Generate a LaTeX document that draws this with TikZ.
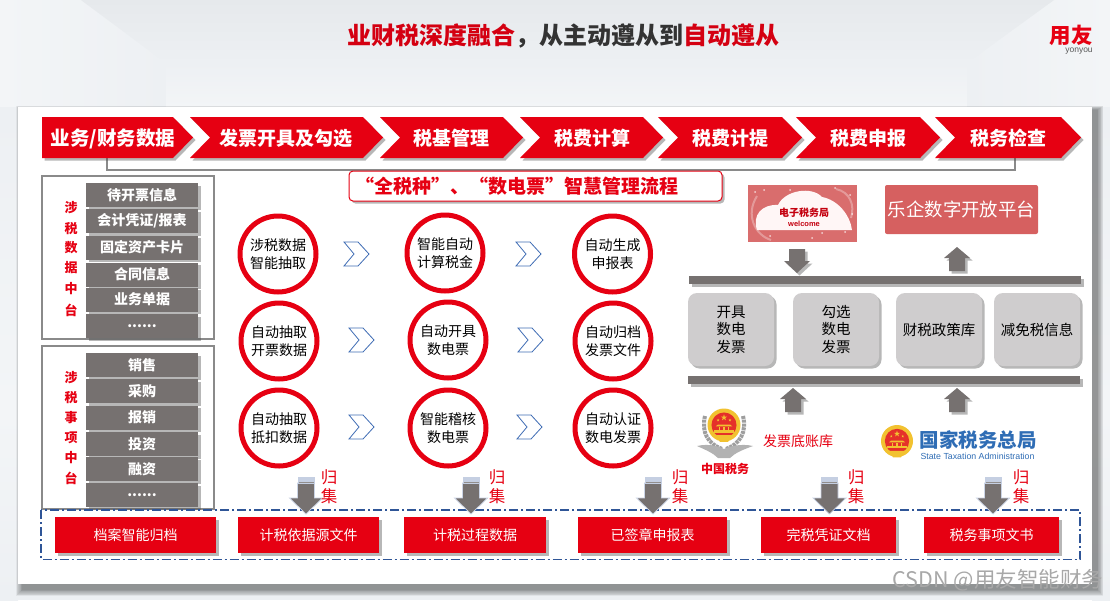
\documentclass[tikz,border=0pt]{standalone}
\usepackage{fontspec}
\setmainfont{Noto Sans CJK SC}
\setsansfont{Liberation Sans}
\usetikzlibrary{shadows,fadings,calc}
\definecolor{rd}{HTML}{E60012}
\definecolor{gy}{HTML}{767170}
\definecolor{fr}{HTML}{8A8A8A}
\definecolor{lg}{HTML}{CFCDCE}
\definecolor{pk}{HTML}{D66060}
\definecolor{bl}{HTML}{2F5597}
\definecolor{chev}{HTML}{3F6DB5}
\definecolor{gold}{HTML}{F2C230}
\definecolor{embred}{HTML}{E5302A}
\definecolor{stablue}{HTML}{2F6DB5}
\definecolor{bgdark}{HTML}{E6E9EC}
\definecolor{bgmid}{HTML}{EDF0F3}
\definecolor{bglight}{HTML}{F3F5F7}
\definecolor{wmgray}{HTML}{A8A8A8}
\newcommand{\fs}[2]{\fontsize{#1}{#2}\selectfont}
\tikzset{
 sh/.style={general shadow={shadow xshift=2.5pt,shadow yshift=-2.5pt,opacity=.4,fill=black!70}},
 stepflag/.style={fill=rd,sh},
 flagtext/.style={text=white,font=\fs{19}{22}\bfseries,inner sep=0pt},
 framebox/.style={draw=fr,line width=2pt,fill=white,inner sep=0pt},
 item/.style={fill=gy,text=white,font=\fs{14}{17}\bfseries,inner sep=0pt,minimum width=112pt,minimum height=24pt,sh},
 sidelabel/.style={text=rd,font=\fs{13}{16}\bfseries,inner sep=0pt},
 ring/.style={circle,draw=rd,line width=5pt,fill=white,minimum size=76pt,inner sep=0pt,align=center,font=\fs{14}{18.5}},
 chevron/.style={draw=chev,line width=.8pt,fill=white},
 greybox/.style={fill=lg,rounded corners=9pt,inner sep=0pt,align=center,font=\fs{14.5}{17.5},minimum height=73pt,sh},
 bar/.style={fill=gy,sh},
 blockarrow/.style={fill=gy,sh},
 redbox/.style={fill=rd,text=white,font=\fs{14}{17},inner sep=0pt,minimum height=36pt,sh},
 gather/.style={text=rd,font=\fs{16.5}{19},inner sep=0pt},
}
\newcommand{\flag}[5]{%
 \fill[stepflag] (#1,117) -- (#3-20,117) -- (#3,137.5) -- (#3-20,158) -- (#1,158) -- (#1+#2,137.5) -- cycle;
 \node[flagtext] (flag#1) at (#4,138.5) {#5};}
\newcommand{\arrowdown}[2]{\fill[blockarrow] (#1-8,#2) -- (#1+8,#2) -- (#1+8,#2+12) -- (#1+13,#2+12) -- (#1,#2+24) -- (#1-13,#2+12) -- (#1-8,#2+12) -- cycle;}
\newcommand{\arrowup}[2]{\fill[blockarrow] (#1-8,#2+24) -- (#1+8,#2+24) -- (#1+8,#2+11) -- (#1+13,#2+11) -- (#1,#2) -- (#1-13,#2+11) -- (#1-8,#2+11) -- cycle;}
\newcommand{\gatherarrow}[1]{%
 \fill[fill=gy,draw=bl!25!white,line width=.7pt] (#1-8.5,483) -- (#1+8.5,483) -- (#1+8.5,498) -- (#1+16.5,498) -- (#1,514) -- (#1-16.5,498) -- (#1-8.5,498) -- cycle;
 \fill[bl!28!white] (#1-8.5,477) rectangle (#1+8.5,484);
 \draw[gy!80!white,line width=.8pt] (#1-7.5,482) -- (#1+7.5,482);}
\newcommand{\chevshape}[2]{\filldraw[chevron] (#1,#2-12) -- (#1+14,#2-12) -- (#1+25,#2) -- (#1+14,#2+12) -- (#1,#2+12) -- (#1+10,#2) -- cycle;}
\newcommand{\estar}[3]{\fill[gold] (#1,#2) ++(-90:#3) -- ++(0,0) (#1,#2) ++(-90:#3) -- ($(#1,#2)+(54:#3)$) -- ($(#1,#2)+(198:#3)$) -- ($(#1,#2)+(342:#3)$) -- ($(#1,#2)+(126:#3)$) -- cycle;}
\newcommand{\emblem}[3]{%
 \fill[gold] (#1,#2) circle (#3);
 \fill[embred] (#1,#2) circle (#3*0.76);
 \estar{#1}{#2-#3*.45}{#3*.2}
 \estar{#1-#3*.36}{#2-#3*.3}{#3*.09}
 \estar{#1+#3*.36}{#2-#3*.3}{#3*.09}
 \fill[gold] (#1-#3*.36,#2-#3*.03) -- (#1+#3*.36,#2-#3*.03) -- (#1+#3*.5,#2+#3*.08) -- (#1-#3*.5,#2+#3*.08) -- cycle;
 \fill[gold] (#1-#3*.32,#2+#3*.12) rectangle (#1-#3*.22,#2+#3*.3);
 \fill[gold] (#1+#3*.22,#2+#3*.12) rectangle (#1+#3*.32,#2+#3*.3);
 \fill[gold] (#1-#3*.05,#2+#3*.12) rectangle (#1+#3*.05,#2+#3*.3);
 \fill[gold] (#1-#3*.62,#2+#3*.33) rectangle (#1+#3*.62,#2+#3*.46);
 \fill[gold] (#1-#3*.45,#2+#3*.62) -- (#1+#3*.45,#2+#3*.62) -- (#1+#3*.25,#2+#3*1.02) -- (#1-#3*.25,#2+#3*1.02) -- cycle;}
\begin{document}
\begin{tikzpicture}[x=1pt,y=-1pt]
\useasboundingbox (0,0) rectangle (1110,600);
% background
\fill[bgmid] (0,0) rectangle (1110,600);
\shade[left color=bglight,right color=bgmid] (0,0) -- (81,0) -- (166,63) -- (166,107) -- (0,107) -- cycle;
\shade[right color=bglight,left color=bgmid] (1110,0) -- (1054,0) -- (967,63) -- (967,107) -- (1110,107) -- cycle;
\shade[top color=bgdark,bottom color=bgmid] (81,0) -- (1054,0) -- (967,63) -- (166,63) -- cycle;
\shade[top color=bgmid,bottom color=bglight] (166,63) rectangle (967,107);
\shade[top color=bgmid,bottom color=bglight] (0,107) rectangle (18,410);
\shade[top color=bglight,bottom color=bgmid] (0,410) rectangle (18,600);
\shade[top color=bgmid,bottom color=bglight] (1092,107) rectangle (1110,410);
\shade[top color=bglight,bottom color=bgmid] (1092,410) rectangle (1110,600);
% panel with soft shadow
\foreach \k in {9,8,7,6,5,4,3,2,1}{
 \fill[black,opacity=.05] (18+5-\k*.8,107+3-\k*.5) rectangle (1092+5+\k*.7,584+5+\k*.8);}
\fill[white] (18,107) rectangle (1092,584);
% title & logo
\node[inner sep=0pt,font=\fs{24}{28}\bfseries] (title) at (563,36) {\textcolor{rd!92!black}{业财税深度融合}\textcolor{black!80}{，从主动遵从到}\textcolor{rd!92!black}{自动遵从}};
\node[inner sep=0pt,text=rd,font=\fs{21.5}{24}\bfseries] (logo) at (1071,35) {用友};
\node[inner sep=0pt,text=black!65,font=\sffamily\fs{8.5}{9}] (yonyou) at (1079,51) {yonyou};
% link under flags
\coordinate (linkL) at (107,158);
\coordinate (linkR) at (1015,158);
\draw[fr,line width=1.5pt] (linkL) -- (107,170) -- (1015,170) -- (linkR);
% flags
\fill[stepflag] (42,117) -- (173,117) -- (193,137.5) -- (173,158) -- (42,158) -- cycle;
\node[flagtext,font=\fs{19.5}{22}\bfseries] (flagA) at (113,138.5) {业务/财务数据};
\flag{190}{20}{383}{286}{发票开具及勾选}
\flag{380}{20}{523}{451}{税基管理}
\flag{520}{20}{663}{592}{税费计算}
\flag{658}{20}{802}{730}{税费计提}
\flag{796}{20}{940}{868}{税费申报}
\flag{935}{20}{1081}{1008}{税务检查}
% banner
\node[draw=rd,line width=1pt,fill=white,rounded corners=4pt,minimum width=373pt,minimum height=30pt,inner sep=0pt,text=rd,font=\fs{19}{22}\bfseries,sh] (banner) at (535.5,186) {“全税种”、“数电票”智慧管理流程\hspace{38pt}\mbox{}};
% left frames
\node[framebox,minimum width=172pt,minimum height=163pt] (frameA) at (128,257.5) {};
\node[framebox,minimum width=172pt,minimum height=163pt] (frameB) at (128,427.5) {};
\node[sidelabel] (sa1) at (71,208) {涉};
\node[sidelabel] (sa2) at (71,229) {税};
\node[sidelabel] (sa3) at (71,248) {数};
\node[sidelabel] (sa4) at (71,268) {据};
\node[sidelabel] (sa5) at (71,289) {中};
\node[sidelabel] (sa6) at (71,310) {台};
\node[sidelabel] (sb1) at (71,378) {涉};
\node[sidelabel] (sb2) at (71,398) {税};
\node[sidelabel] (sb3) at (71,418) {事};
\node[sidelabel] (sb4) at (71,438) {项};
\node[sidelabel] (sb5) at (71,458) {中};
\node[sidelabel] (sb6) at (71,478) {台};
\node[item] (ia1) at (142,195) {待开票信息};
\node[item] (ia2) at (142,221) {会计凭证/报表};
\node[item] (ia3) at (142,247.5) {固定资产卡片};
\node[item] (ia4) at (142,274.5) {合同信息};
\node[item] (ia5) at (142,299.5) {业务单据};
\node[item] (ia6) at (142,326) {......};
\node[item] (ib1) at (142,365) {销售};
\node[item] (ib2) at (142,391) {采购};
\node[item] (ib3) at (142,417.5) {报销};
\node[item] (ib4) at (142,444) {投资};
\node[item] (ib5) at (142,469) {融资};
\node[item] (ib6) at (142,495) {......};
% rings
\node[ring] (r11) at (278,254) {涉税数据\\智能抽取};
\node[ring] (r12) at (445,253) {智能自动\\计算税金};
\node[ring] (r13) at (612.5,254) {自动生成\\申报表};
\node[ring] (r21) at (279,341) {自动抽取\\开票数据};
\node[ring] (r22) at (448,340) {自动开具\\数电票};
\node[ring] (r23) at (613,341) {自动归档\\发票文件};
\node[ring] (r31) at (279,428) {自动抽取\\抵扣数据};
\node[ring] (r32) at (448,428) {智能稽核\\数电票};
\node[ring] (r33) at (613,428) {自动认证\\数电发票};
\chevshape{344}{254}\chevshape{516}{254}
\chevshape{349}{340}\chevshape{518}{340}
\chevshape{349}{427}\chevshape{517}{427}
% right side top
\fill[pk!92!white] (748,185) rectangle (857,242);
\foreach \a/\b in {755/192,770/236,790/190,812/238,850/195,845/232,835/188,764/190,822/233,852/214}{\fill[white,opacity=.7] (\a,\b) circle (1pt);}
\draw[white,opacity=.3,line width=2pt] (757,196) .. controls (745,215) and (755,235) .. (771,240);
\draw[white,opacity=.3,line width=2pt] (836,189) .. controls (850,192) and (855,205) .. (851,218);
\fill[white!85!pink] (757,230) .. controls (752,215) and (762,204) .. (778,205) .. controls (785,190) and (812,186) .. (822,197) .. controls (838,200) and (850,215) .. (852,230) -- cycle;
\node[inner sep=0pt,text=rd!85!black,font=\fs{10}{11}\bfseries] (ebureau) at (804,213) {电子税务局};
\node[inner sep=0pt,text=rd!85!black,font=\sffamily\bfseries\fs{7.5}{8}] (welcome) at (804,223.5) {welcome};
\node[fill=pk,rounded corners=2pt,minimum width=153pt,minimum height=49pt,inner sep=0pt,text=white,font=\fs{18.4}{22}] (leqi) at (961.5,209.5) {乐企数字开放平台};
\arrowdown{797}{249}
\arrowup{957}{247}
\fill[bar] (689,276) rectangle (1081,284);
\node[greybox,minimum width=86pt] (g1) at (731,329.5) {开具\\数电\\发票};
\node[greybox,minimum width=86pt] (g2) at (836,329.5) {勾选\\数电\\发票};
\node[greybox,minimum width=86pt] (g3) at (939,329.5) {财税政策库};
\node[greybox,minimum width=86pt] (g4) at (1037,329.5) {减免税信息};
\fill[bar] (688,376) rectangle (1080,384);
\arrowup{793}{388}
\arrowup{957}{388}
% emblem left: silver wreath and wings
\draw[black!38,line width=4pt,dash pattern=on 3pt off .8pt] (705,416) .. controls (701,432) and (708,444) .. (722,449);
\draw[black!38,line width=4pt,dash pattern=on 3pt off .8pt] (743,416) .. controls (747,432) and (740,444) .. (726,449);
\fill[black!30] (697,446) .. controls (710,443) and (720,447) .. (724,449) .. controls (728,447) and (740,443) .. (753,446) .. controls (742,450) and (735,453) .. (730,458) -- (718,458) .. controls (713,453) and (706,450) .. (697,446) -- cycle;
\emblem{724}{425}{16.5}
\node[inner sep=0pt,text=rd,font=\fs{12}{14}\bfseries] (cntax) at (725,469) {中国税务};
\node[inner sep=0pt,text=rd,font=\fs{14}{16}] (ledger) at (798,441) {发票底账库};
% emblem right
\emblem{897}{441}{16}
\node[inner sep=0pt,text=stablue,font=\fs{19.5}{22}\bfseries] (sta) at (978,440) {国家税务总局};
\node[inner sep=0pt,text=stablue,font=\sffamily\fs{8.8}{9}] (staen) at (977.5,456) {State Taxation Administration};
% dashed frame
\draw[bl,line width=1.2pt,dash pattern=on 9pt off 3pt on 2pt off 3pt] (41,510) rectangle (1080,559.5);
% gather arrows
\foreach \x in {306,471,653,829.5,993}{\gatherarrow{\x}}
\foreach \x/\i in {329/1,497/2,680/3,856/4,1021/5}{
 \node[gather] (gu\i) at (\x,477) {归};
 \node[gather] (ji\i) at (\x,496.5) {集};}
% red boxes
\node[redbox,minimum width=161pt] (b1) at (135.5,535) {档案智能归档};
\node[redbox,minimum width=141pt] (b2) at (308.5,535) {计税依据源文件};
\node[redbox,minimum width=142pt] (b3) at (475,535) {计税过程数据};
\node[redbox,minimum width=149pt] (b4) at (652.5,535) {已签章申报表};
\node[redbox,minimum width=135pt] (b5) at (828.5,535) {完税凭证文档};
\node[redbox,minimum width=135pt] (b6) at (991.5,535) {税务事项文书};
% watermark
\node[inner sep=0pt,text=wmgray,font=\fs{21.5}{24}] (wm) at (998,580) {CSDN @用友智能财务};
\end{tikzpicture}
\end{document}
